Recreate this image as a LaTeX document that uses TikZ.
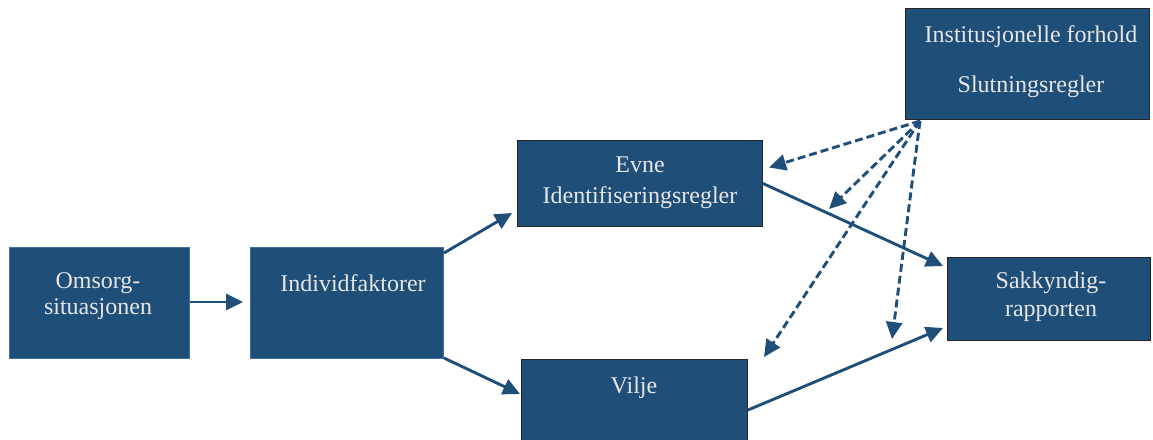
\documentclass[tikz,border=0pt]{standalone}
\usepackage{fontspec}
\setmainfont{Liberation Serif}
\usetikzlibrary{arrows.meta,calc}
\definecolor{boxblue}{HTML}{1F4E79}
\definecolor{lightedge}{HTML}{41719C}
\definecolor{txtgray}{HTML}{E7E6E6}
\begin{document}
\begin{tikzpicture}[x=1pt,y=-1pt,
  box/.style={rectangle, fill=boxblue, draw=black!85, line width=1pt, anchor=north west, inner sep=0pt},
  lbox/.style={box, draw=lightedge},
  txt/.style={text=txtgray, anchor=base, inner sep=0pt, font=\fontsize{24}{28}\selectfont},
  arr/.style={draw=boxblue, line width=2.9pt, -{Triangle[length=17pt,width=16pt]}},
  darr/.style={draw=boxblue, line width=2.9pt, dash pattern=on 8pt off 4pt, -{Triangle[length=17pt,width=16pt]}}]
\useasboundingbox (0,0) rectangle (1153,439);
% boxes
\node[lbox, minimum width=180pt, minimum height=111pt] (omsorg) at (9,247) {};
\node[lbox, minimum width=193pt, minimum height=111pt] (individ) at (250,247) {};
\node[box, minimum width=245pt, minimum height=86pt] (evne) at (517,140) {};
\node[box, minimum width=226pt, minimum height=85pt] (vilje) at (521,359) {};
\node[box, minimum width=244pt, minimum height=111pt] (inst) at (905,8) {};
\node[box, minimum width=203pt, minimum height=83pt] (sakk) at (947,257) {};
% texts
\node[txt] (t1a) at (98,288) {Omsorg-};
\node[txt] (t1b) at (98,314) {situasjonen};
\node[txt] (t2) at (353,291) {Individfaktorer};
\node[txt] (t3a) at (640,172) {Evne};
\node[txt] (t3b) at (640,203) {Identifiseringsregler};
\node[txt] (t4) at (634,393) {Vilje};
\node[txt] (t5a) at (1031,42) {Institusjonelle forhold};
\node[txt] (t5b) at (1031,92) {Slutningsregler};
\node[txt] (t6a) at (1051,288) {Sakkyndig-};
\node[txt] (t6b) at (1051,316) {rapporten};
% solid connectors
\draw[arr] ($(omsorg.east)+(0,-1)$) -- ($(individ.west)+(-7,-1)$);
\draw[arr] ($(individ.north east)+(0,6)$) -- ($(evne.south west)+(-5,-14)$);
\draw[arr] ($(individ.south east)+(0,-1)$) -- ($(vilje.north west)+(-1,35)$);
\draw[arr] (evne.east) -- ($(sakk.north west)+(-4,9)$);
\draw[arr] ($(vilje.north east)+(0,51)$) -- ($(sakk.south west)+(-4,-13)$);
% dashed connectors
\coordinate (src) at ($(inst.south west)+(15,1)$);
\coordinate (d1) at ($(evne.east)+(6,-16)$);
\coordinate (d2) at ($(evne.south east)+(66,-18)$);
\coordinate (d3) at ($(vilje.north east)+(16,-2)$);
\coordinate (d4) at ($(sakk.south west)+(-55,-2)$);
\draw[darr] (src) -- (d1);
\draw[darr] (src) -- (d2);
\draw[darr] (src) -- (d3);
\draw[darr] (src) -- (d4);
\end{tikzpicture}
\end{document}
